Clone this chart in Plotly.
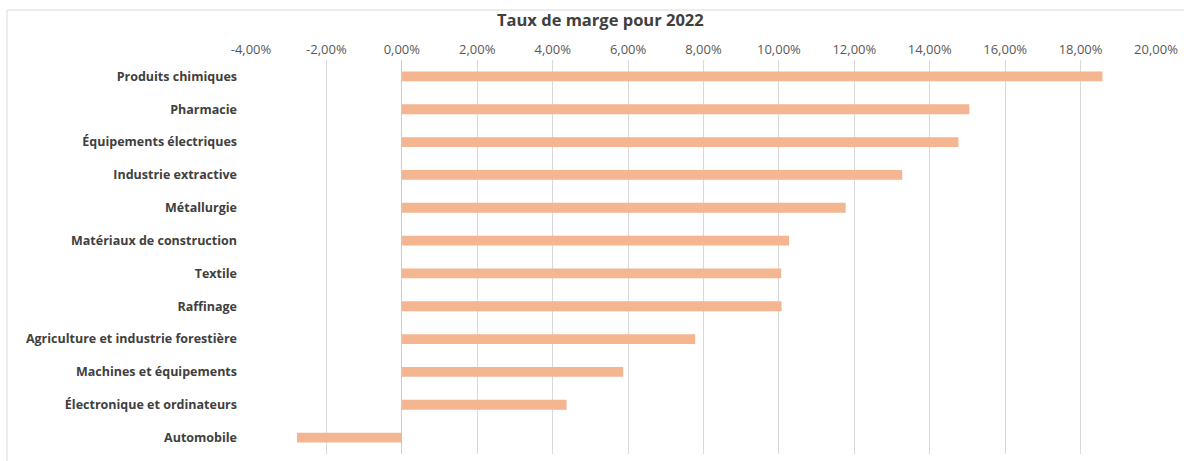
import plotly.graph_objects as go

categories = [
    "Produits chimiques",
    "Pharmacie",
    "Équipements électriques",
    "Industrie extractive",
    "Métallurgie",
    "Matériaux de construction",
    "Textile",
    "Raffinage",
    "Agriculture et industrie forestière",
    "Machines et équipements",
    "Électronique et ordinateurs",
    "Automobile",
]
margin_rate = [0.1858, 0.1505, 0.1476, 0.1327, 0.1177, 0.1027, 0.1006, 0.1007, 0.0778, 0.0587, 0.0437, -0.0278]

tick_values = [-0.04, -0.02, 0.0, 0.02, 0.04, 0.06, 0.08, 0.10, 0.12, 0.14, 0.16, 0.18, 0.20]
tick_labels = ["-4,00%", "-2,00%", "0,00%", "2,00%", "4,00%", "6,00%", "8,00%",
               "10,00%", "12,00%", "14,00%", "16,00%", "18,00%", "20,00%"]

title_text = "Taux de marge pour 2022"

FONT = "Open Sans"
BAR = "#F4B591"

fig = go.Figure(
    go.Bar(
        x=margin_rate,
        y=categories,
        orientation="h",
        marker=dict(color=BAR, line=dict(width=0)),
        width=0.3,
    )
)

W, H = 1184, 461
L, R, T, B = 251, 28, 60, 7
pw, ph = W - L - R, H - T - B

def px_to_paper_x(px):
    return (px - L) / pw

def px_to_paper_y(py):
    return 1 - (py - T) / ph

fig.update_layout(
    width=W,
    height=H,
    margin=dict(l=L, r=R, t=T, b=B, pad=0),
    paper_bgcolor="white",
    plot_bgcolor="white",
    showlegend=False,
    font=dict(family=FONT, color="#404040"),
    xaxis=dict(
        side="top",
        range=[-0.04, 0.20],
        tickvals=tick_values,
        ticktext=tick_labels,
        showgrid=True,
        gridcolor="#D9D9D9",
        gridwidth=1,
        zeroline=True,
        zerolinecolor="#CCCCCC",
        zerolinewidth=1,
        showline=False,
        ticks="",
        ticklabelstandoff=2,
        tickfont=dict(family=FONT, size=13, color="#595959"),
        fixedrange=True,
    ),
    yaxis=dict(
        categoryorder="array",
        categoryarray=categories,
        autorange="reversed",
        showgrid=False,
        zeroline=False,
        showline=False,
        ticks="",
        ticklabelstandoff=13,
        tickfont=dict(family=FONT, size=12.5, color="#404040", weight="bold"),
        fixedrange=True,
    ),
    annotations=[
        dict(
            text="<b>" + title_text + "</b>",
            xref="paper",
            yref="paper",
            x=px_to_paper_x(600),
            y=px_to_paper_y(20),
            xanchor="center",
            yanchor="middle",
            showarrow=False,
            font=dict(family=FONT, size=16.5, color="#404040"),
        )
    ],
    shapes=[
        dict(
            type="rect",
            xref="paper",
            yref="paper",
            x0=px_to_paper_x(7),
            x1=px_to_paper_x(1200),
            y0=px_to_paper_y(480),
            y1=px_to_paper_y(10),
            line=dict(color="#D9D9D9", width=1),
            fillcolor="rgba(0,0,0,0)",
            layer="below",
        )
    ],
)

fig.write_html("out.html")
